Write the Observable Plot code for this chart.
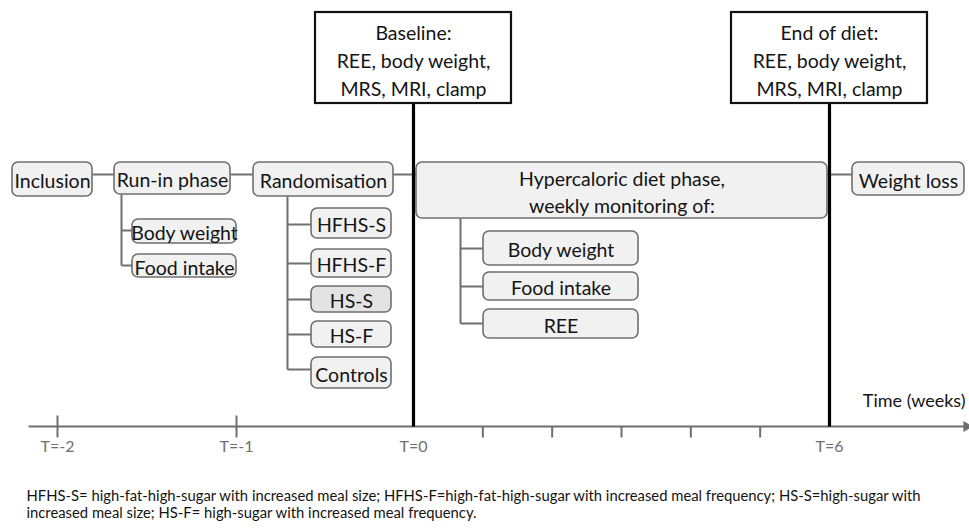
<!DOCTYPE html>
<html>
<head>
<meta charset="utf-8">
<script src="https://cdn.jsdelivr.net/npm/d3@7"></script>
<script src="https://cdn.jsdelivr.net/npm/@observablehq/plot@0.6"></script>
<style>
  body { margin: 0; background: #fff; }
  #chart { width: 969px; height: 528px; }
</style>
</head>
<body>
<div id="chart"></div>
<script>
// ---------- content ----------
const mainSteps = ["Inclusion", "Run-in phase", "Randomisation", "Hypercaloric diet phase,\nweekly monitoring of:", "Weight loss"];
const runInMeasures = ["Body weight", "Food intake"];
const dietGroups = ["HFHS-S", "HFHS-F", "HS-S", "HS-F", "Controls"];
const weeklyMeasures = ["Body weight", "Food intake", "REE"];
const assessmentLabels = ["Baseline:\nREE, body weight,\nMRS, MRI, clamp", "End of diet:\nREE, body weight,\nMRS, MRI, clamp"];
const assessmentWeeks = [0, 6];
const weekTicks = [-2, -1, 0, 1, 2, 3, 4, 5, 6];
const tickLabels = ["T=-2", "T=-1", "T=0", "", "", "", "", "", "T=6"];
const axisTitle = "Time (weeks)";
const footnoteLines = [
  "HFHS-S= high-fat-high-sugar with increased meal size; HFHS-F=high-fat-high-sugar with increased meal frequency; HS-S=high-sugar with",
  "increased meal size; HS-F= high-sugar with increased meal frequency."
];

// ---------- layout (diagram geometry, in layout units) ----------
const W = 969, H = 528;
const weekPos = d3.scaleLinear().domain([-2, -1, 0, 6]).range([57, 236, 413, 829]);
const mainX = [[12, 92], [114, 230], [253, 393], [416, 827], [852, 964]];
const mainY1 = 162, mainY2 = [196, 194, 196, 218, 195];
const connY = 174;
const runIn = {trunk: 121, top: 194, x1: 132, x2: 236, y: [[219, 243], [254, 277]], branch: [230, 265]};
const groupsL = {trunk: 287, top: 196, x1: 311, x2: 391, y: [[208, 238], [249, 277], [286, 312], [321, 347], [357, 388]], branch: [224, 263, 299, 334, 369]};
const weekly = {trunk: 460, top: 218, x1: 483, x2: 638, y: [[231, 265], [272, 300], [309, 338]], branch: [248, 286, 323]};
const assessBox = {halfW: 98, y1: 12, y2: 103};
const axisY = 426, axisX1 = 28, axisX2 = 966;
const footY = 496, footStep = 17;

// ---------- derived records ----------
const mainBoxes = mainSteps.map((label, i) => ({label, x1: mainX[i][0], x2: mainX[i][1], y1: mainY1, y2: mainY2[i]}));
function subBoxes(labels, L, fills) {
  return labels.map((label, i) => ({label, x1: L.x1, x2: L.x2, y1: L.y[i][0], y2: L.y[i][1], by: L.branch[i], fill: fills ? fills[i] : "#f1f1f1"}));
}
const runInBoxes = subBoxes(runInMeasures, runIn);
const groupBoxes = subBoxes(dietGroups, groupsL, ["#f1f1f1", "#f1f1f1", "#e3e3e3", "#f1f1f1", "#f1f1f1"]);
const weeklyBoxes = subBoxes(weeklyMeasures, weekly);
const roundBoxes = [...mainBoxes.map(d => ({...d, fill: "#f1f1f1"})), ...runInBoxes, ...groupBoxes, ...weeklyBoxes];

const connectors = [];
for (let i = 0; i < mainBoxes.length - 1; i++) {
  connectors.push({x1: mainBoxes[i].x2, x2: mainBoxes[i + 1].x1, y1: connY, y2: connY});
}
for (const [L, boxes] of [[runIn, runInBoxes], [groupsL, groupBoxes], [weekly, weeklyBoxes]]) {
  connectors.push({x1: L.trunk, x2: L.trunk, y1: L.top, y2: d3.max(boxes, d => d.by)});
  for (const b of boxes) connectors.push({x1: L.trunk, x2: b.x1, y1: b.by, y2: b.by});
}

const assessments = assessmentLabels.map((label, i) => {
  const x = weekPos(assessmentWeeks[i]);
  return {label, x, x1: x - assessBox.halfW, x2: x + assessBox.halfW, y1: assessBox.y1, y2: assessBox.y2};
});

const ticks = weekTicks.map((w, i) => ({w, x: weekPos(w), label: tickLabels[i]}));
const majorTicks = ticks.filter(d => d.w < 0);
const minorTicks = ticks.filter(d => d.w > 0 && d.w < 6);

const textColor = "#141414";
const lineGray = "#6f6f6f";

const chart = Plot.plot({
  width: W,
  height: H,
  margin: 0,
  x: {domain: [0, W], range: [0, W], axis: null},
  y: {domain: [0, H], range: [0, H], axis: null},
  style: {fontFamily: "Lato, 'Open Sans', sans-serif", background: "#fff"},
  marks: [
    // connectors
    Plot.link(connectors, {x1: "x1", x2: "x2", y1: "y1", y2: "y2", stroke: lineGray, strokeWidth: 2}),
    // rounded process boxes
    Plot.rect(roundBoxes, {x1: "x1", x2: "x2", y1: "y1", y2: "y2", rx: 6, fill: "fill", stroke: lineGray, strokeWidth: 1.6}),
    // timeline axis
    Plot.link([{x1: axisX1, x2: axisX2, y: axisY}], {x1: "x1", x2: "x2", y1: "y", y2: "y", stroke: lineGray, strokeWidth: 2}),
    Plot.dot([{x: axisX2, y: axisY}], {x: "x", y: "y", symbol: "triangle", rotate: 90, r: 4, fill: lineGray, stroke: null}),
    Plot.link(majorTicks, {x1: "x", x2: "x", y1: () => axisY - 11, y2: () => axisY + 11, stroke: lineGray, strokeWidth: 2}),
    Plot.link(minorTicks, {x1: "x", x2: "x", y1: () => axisY, y2: () => axisY + 11, stroke: lineGray, strokeWidth: 2}),
    Plot.text(ticks.filter(d => d.label), {x: "x", y: () => axisY + 20, text: "label", fontSize: 16, fill: "#707070"}),
    Plot.text([axisTitle], {x: () => 965, y: () => axisY - 25, text: d => d, textAnchor: "end", fontSize: 18, fill: textColor}),
    // thick assessment lines
    Plot.link(assessments, {x1: "x", x2: "x", y1: "y2", y2: () => axisY, stroke: "#000", strokeWidth: 3.2}),
    // assessment boxes
    Plot.rect(assessments, {x1: "x1", x2: "x2", y1: "y1", y2: "y2", fill: "#fff", stroke: "#111", strokeWidth: 2.2}),
    Plot.text(assessments, {x: "x", y: d => (d.y1 + d.y2) / 2 + 1, text: "label", fontSize: 19.5, lineHeight: 1.42, fill: textColor}),
    // box labels
    Plot.text(roundBoxes, {x: d => (d.x1 + d.x2) / 2, y: d => (d.y1 + d.y2) / 2, text: "label", fontSize: 19.5, lineHeight: 1.4, fill: textColor}),
    // footnote
    Plot.text(footnoteLines, {x: () => 26, y: (d, i) => footY + i * footStep, text: d => d, textAnchor: "start", fontSize: 14.8, fill: textColor})
  ]
});
document.getElementById("chart").appendChild(chart);
</script>
</body>
</html>
